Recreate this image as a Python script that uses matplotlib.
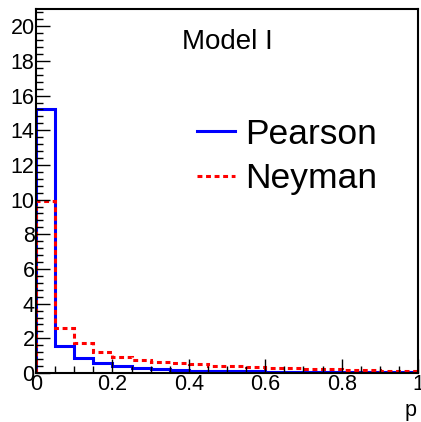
import numpy as np
from matplotlib import pyplot as plt
from matplotlib.ticker import MultipleLocator

plt.rcParams['font.family'] = ['Liberation Sans', 'DejaVu Sans']

# Histogram bin edges (20 bins of width 0.05)
bin_edges = np.linspace(0.0, 1.0, 21)

pearson = [15.2, 1.56, 0.87, 0.6, 0.38, 0.28, 0.22, 0.17, 0.14, 0.12,
           0.1, 0.09, 0.08, 0.07, 0.06, 0.06, 0.05, 0.05, 0.04, 0.04]
neyman = [9.9, 2.6, 1.72, 1.2, 0.94, 0.76, 0.66, 0.58, 0.54, 0.42,
          0.38, 0.34, 0.3, 0.27, 0.24, 0.21, 0.18, 0.16, 0.13, 0.11]

fig = plt.figure(figsize=(4.21, 4.22), dpi=100)
ax = fig.add_axes([0.0855, 0.116, 0.9075, 0.863])

ax.stairs(pearson, bin_edges, color='#0000ff', linewidth=2.2, label='Pearson')
ax.stairs(neyman, bin_edges, color='#ff0000', linewidth=2.2,
          linestyle=(0, (1.6, 1.2)), label='Neyman')

ax.set_xlim(0, 1)
ax.set_ylim(0, 21)

# ROOT-like ticks
ax.xaxis.set_major_locator(MultipleLocator(0.2))
ax.xaxis.set_minor_locator(MultipleLocator(0.05))
ax.yaxis.set_major_locator(MultipleLocator(2))
ax.yaxis.set_minor_locator(MultipleLocator(0.4))
ax.tick_params(which='both', direction='in', top=False, right=False,
               labelsize=15.5, pad=1, width=1)
ax.tick_params(which='major', length=10)
ax.tick_params(which='minor', length=5)
ax.set_xticks([0, 0.2, 0.4, 0.6, 0.8, 1])
ax.set_xticklabels(['0', '0.2', '0.4', '0.6', '0.8', '1'])
for s in ax.spines.values():
    s.set_linewidth(1.5)

ax.set_xlabel('p', fontsize=15.5, loc='right')
ax.xaxis.set_label_coords(0.995, -0.075)

ax.text(0.5, 0.909, 'Model I', transform=ax.transAxes, fontsize=20,
        ha='center', va='center')

ax.legend(loc='center left', bbox_to_anchor=(0.421, 0.595), frameon=False,
          fontsize=25.5, handlelength=1.07, handletextpad=0.28,
          labelspacing=0.33, borderaxespad=0, borderpad=0)

fig.savefig('out.png', dpi=100)
